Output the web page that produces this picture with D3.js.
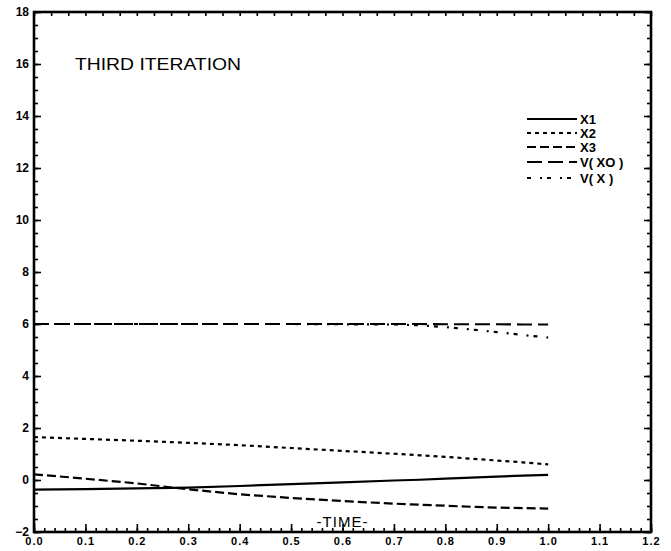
<!DOCTYPE html>
<html>
<head>
<meta charset="utf-8">
<script src="https://cdn.jsdelivr.net/npm/d3@7/dist/d3.min.js"></script>
<style>
  html, body { margin: 0; padding: 0; background: #fff; }
  svg { display: block; }
  text { font-family: "Liberation Sans", "DejaVu Sans", sans-serif; fill: #000; }
</style>
</head>
<body>
<svg id="chart" width="671" height="551"></svg>
<script>
// Time samples and state trajectories
const time = [0.0, 0.1, 0.2, 0.3, 0.4, 0.5, 0.6, 0.7, 0.75, 0.8, 0.85, 0.9, 0.95, 1.0];
const x1   = [-0.37, -0.35, -0.32, -0.29, -0.23, -0.16, -0.09, -0.02, 0.01, 0.05, 0.09, 0.13, 0.17, 0.20];
const x2   = [1.65, 1.58, 1.51, 1.43, 1.34, 1.23, 1.12, 1.01, 0.95, 0.89, 0.82, 0.75, 0.68, 0.60];
const x3   = [0.22, 0.05, -0.13, -0.36, -0.55, -0.69, -0.81, -0.91, -0.95, -0.99, -1.03, -1.06, -1.08, -1.10];
const vx0  = [6.0, 6.0, 6.0, 6.0, 6.0, 6.0, 6.0, 6.0, 6.0, 5.99, 5.99, 5.99, 5.98, 5.98];
const vx   = [6.0, 6.0, 6.0, 6.0, 6.0, 6.0, 5.99, 5.98, 5.95, 5.88, 5.79, 5.69, 5.58, 5.48];

// Axis ticks and legend text
const xTicks = [0.0, 0.1, 0.2, 0.3, 0.4, 0.5, 0.6, 0.7, 0.8, 0.9, 1.0, 1.1, 1.2];
const yTicks = [-2, 0, 2, 4, 6, 8, 10, 12, 14, 16, 18];
const seriesNames = ["X1", "X2", "X3", "V( XO )", "V( X )"];
const seriesData = [x1, x2, x3, vx0, vx];
const dashes = [null, "4,4", "9,4", "15,6", "4,9,2,5"];

const svg = d3.select("#chart");
const x = d3.scaleLinear().domain([0, 1.2]).range([34, 651]);
const y = d3.scaleLinear().domain([-2, 18]).range([532, 12]);

// Minor ticks
const xMinor = d3.range(0, 1.2001, 0.02);
const xMinorTop = d3.range(0, 1.2001, 0.1 / 3);
const yMinor = d3.range(-2, 18.001, 0.5);

function styleAxis(g) {
  g.select(".domain").remove();
  g.selectAll(".tick line").attr("stroke", "#000").attr("stroke-width", 1.6);
}

svg.append("g").attr("transform", `translate(0,${y(-2)})`)
  .call(d3.axisBottom(x).tickValues(xMinor).tickSize(-4).tickFormat(""))
  .call(styleAxis);
svg.append("g").attr("transform", `translate(0,${y(18)})`)
  .call(d3.axisTop(x).tickValues(xMinorTop).tickSize(-4).tickFormat(""))
  .call(styleAxis);
svg.append("g").attr("transform", `translate(${x(0)},0)`)
  .call(d3.axisLeft(y).tickValues(yMinor).tickSize(-4).tickFormat(""))
  .call(styleAxis);
svg.append("g").attr("transform", `translate(${x(1.2)},0)`)
  .call(d3.axisRight(y).tickValues(yMinor).tickSize(-4).tickFormat(""))
  .call(styleAxis);

// Major ticks with labels
const xAxis = svg.append("g").attr("transform", `translate(0,${y(-2)})`)
  .call(d3.axisBottom(x).tickValues(xTicks).tickSizeInner(-8).tickSizeOuter(0)
        .tickPadding(5).tickFormat(d3.format(".1f")))
  .call(styleAxis);
xAxis.selectAll("text").attr("font-size", 11).attr("font-weight", "bold")
  .attr("letter-spacing", 1);

const yAxis = svg.append("g").attr("transform", `translate(${x(0)},0)`)
  .call(d3.axisLeft(y).tickValues(yTicks).tickSizeInner(-7).tickSizeOuter(0)
        .tickPadding(5).tickFormat(d3.format("d")))
  .call(styleAxis);
yAxis.selectAll("text").attr("font-size", 12).attr("font-weight", "bold");

svg.append("g").attr("transform", `translate(${x(1.2)},0)`)
  .call(d3.axisRight(y).tickValues(yTicks).tickSizeInner(-7).tickSizeOuter(0).tickFormat(""))
  .call(styleAxis);

// Frame
svg.append("rect")
  .attr("x", x(0)).attr("y", y(18))
  .attr("width", x(1.2) - x(0)).attr("height", y(-2) - y(18))
  .attr("fill", "none").attr("stroke", "#000").attr("stroke-width", 2.6);

// Trajectories
const line = d3.line().x((d, i) => x(time[i])).y(d => y(d));
seriesData.forEach((s, k) => {
  svg.append("path").datum(s)
    .attr("d", line)
    .attr("fill", "none").attr("stroke", "#000").attr("stroke-width", 2.2)
    .attr("stroke-dasharray", dashes[k]);
});

// Title and axis caption
svg.append("text").attr("x", 75).attr("y", 70)
  .attr("font-size", 17).attr("textLength", 166).attr("lengthAdjust", "spacingAndGlyphs")
  .text("THIRD ITERATION");
svg.append("text").attr("x", x(0.6)).attr("y", 527)
  .attr("text-anchor", "middle").attr("font-size", 15).attr("letter-spacing", 1)
  .text("-TIME-");

// Legend
const legendY = [119, 133, 147, 162, 178];
seriesNames.forEach((name, k) => {
  const g = svg.append("g").attr("transform", `translate(0,${legendY[k]})`);
  g.append("line").attr("x1", 527).attr("x2", 577).attr("y1", 0).attr("y2", 0)
    .attr("stroke", "#000").attr("stroke-width", 2.2)
    .attr("stroke-dasharray", dashes[k]);
  g.append("text").attr("x", 580).attr("y", 5)
    .attr("font-size", 13).attr("font-weight", "bold").text(name);
});
</script>
</body>
</html>
